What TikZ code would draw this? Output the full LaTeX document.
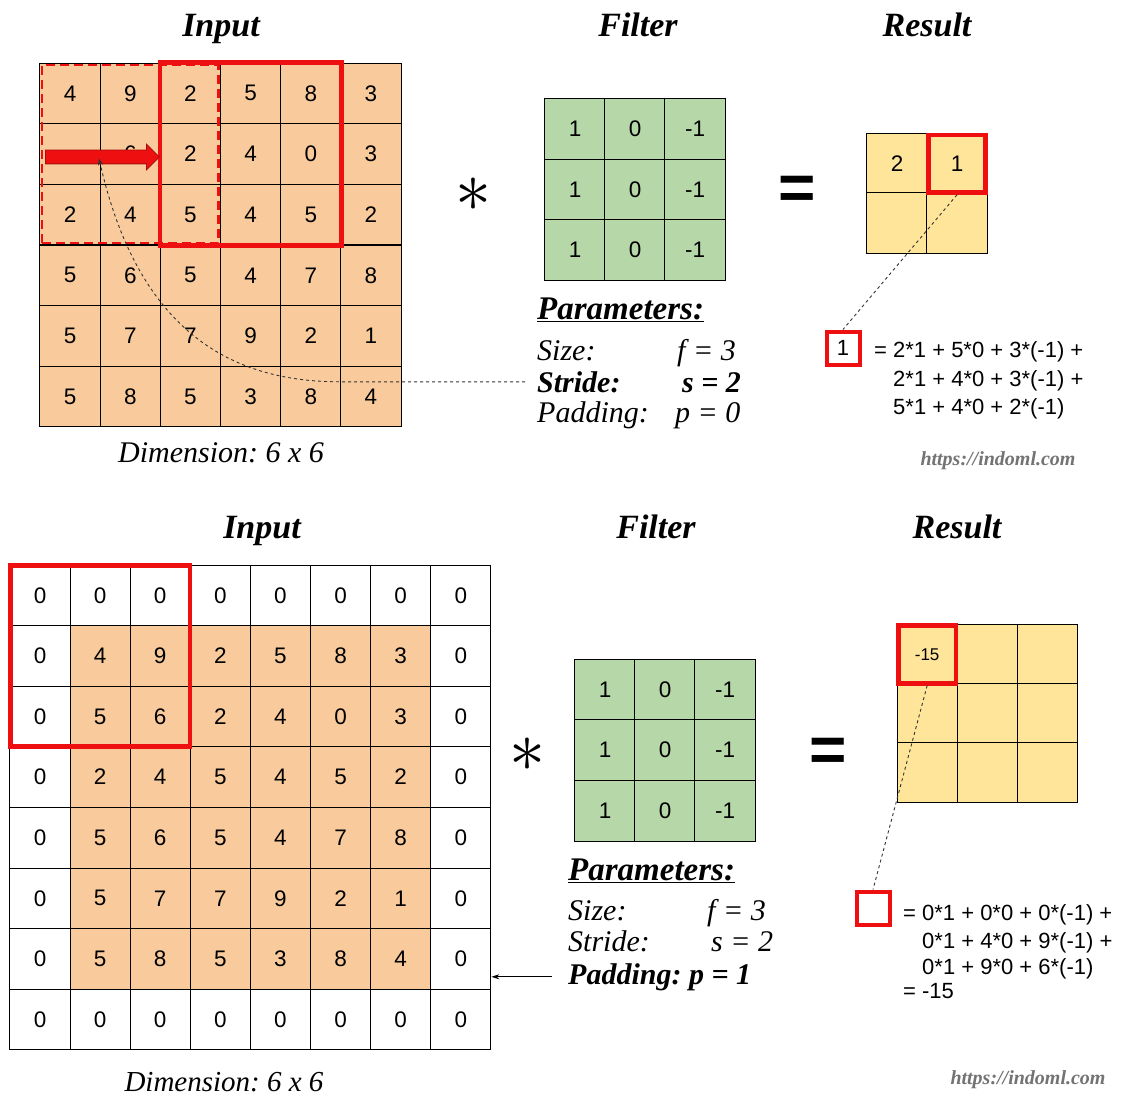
\RequirePackage{fix-cm}
\documentclass[tikz,border=0pt]{standalone}
\usepackage{fontspec}
\setmainfont{Liberation Serif}
\newfontfamily\arialfont{Liberation Sans}
\usetikzlibrary{positioning, fit, shapes.arrows, arrows.meta}
\frenchspacing

\definecolor{inputfill}{RGB}{249,203,156}
\definecolor{filterfill}{RGB}{182,215,168}
\definecolor{resultfill}{RGB}{255,229,153}
\definecolor{markred}{RGB}{238,16,16}
\definecolor{urlgray}{RGB}{115,115,115}

\tikzset{
   cell/.style={
     draw=black, line width=1pt, inner sep=0pt,
     minimum width=60.2pt, minimum height=60.6pt,
     font=\arialfont\fontsize{22.5}{22.5}\selectfont
   },
   incell/.style={cell, fill=inputfill},
   fcell/.style={cell, fill=filterfill},
   rcell/.style={cell, fill=resultfill},
   winbox/.style={draw=markred, line width=4.5pt, inner sep=0pt},
   smallbox/.style={
     draw=markred, line width=4pt, inner sep=0pt, minimum size=33pt,
     font=\arialfont\fontsize{22}{22}\selectfont
   },
   shiftarrow/.style={
     single arrow, fill=markred, draw=markred!70!black, line width=0.8pt,
     minimum height=114pt, inner xsep=0pt, inner ysep=6.5pt,
     single arrow head extend=6pt
   },
   title/.style={anchor=base, font=\bfseries\itshape\fontsize{34}{34}\selectfont},
   param/.style={anchor=base west, inner sep=0pt, font=\itshape\fontsize{30}{30}\selectfont},
   parambold/.style={param, font=\bfseries\itshape\fontsize{30}{30}\selectfont},
   paramhead/.style={param, font=\bfseries\itshape\fontsize{33}{33}\selectfont},
   eqline/.style={anchor=base west, inner sep=0pt, font=\arialfont\fontsize{22}{22}\selectfont},
   dimtext/.style={font=\itshape\fontsize{30}{30}\selectfont},
   urltext/.style={text=urlgray, font=\bfseries\itshape\fontsize{20}{20}\selectfont},
   opsign/.style={font=\fontsize{72}{72}\selectfont},
   eqsign/.style={font=\arialfont\bfseries\fontsize{64}{64}\selectfont},
   linkline/.style={dashed, line width=0.9pt, black!80},
   padline/.style={->, >={Stealth[length=8pt,width=5pt]}, line width=0.8pt}
}

\begin{document}
\begin{tikzpicture}[x=1pt, y=-1pt]
   \fill[white] (0,0) rectangle (1134,1099);
   \useasboundingbox (0,0) rectangle (1134,1099);

   % ---- stride 2, no padding ----
   \node[title](in1-title) at (221,37) {Input};
   \node[title](f1-title) at (638,37) {Filter};
   \node[title](r1-title) at (927,37) {Result};

   \foreach \row [count=\ri] in {{4,9,2,5,8,3},{,6,2,4,0,3},{2,4,5,4,5,2},{5,6,5,4,7,8},{5,7,7,9,2,1},{5,8,5,3,8,4}}
      \foreach \v [count=\ci] in \row
         \node[incell](in1-\ri-\ci) at ({40+60.17*(\ci-0.5)},{63+60.67*(\ri-0.5)}) {\v};

   \node[winbox, dash pattern=on 9pt off 5pt, line width=2.8pt, inner sep=-2.5pt, fit=(in1-1-1)(in1-3-3)](win0) {};
   \node[winbox, fit=(in1-1-3)(in1-3-5)](win1) {};
   \node[shiftarrow, anchor=west](shift1) at (45,157) {};

   \node[opsign](conv1) at (473,195) {$\ast$};

   \foreach \ri in {1,2,3}
      \foreach \v [count=\ci] in {1,0,-1}
         \node[fcell](f1-\ri-\ci) at ({545+60*(\ci-0.5)},{99+60.5*(\ri-0.5)}) {\v};

   \node[eqsign](equal1) at (797,193) {=};

   \foreach \ri/\ci/\v in {1/1/2, 1/2/1, 2/1/, 2/2/}
      \node[rcell](r1-\ri-\ci) at ({867+60*(\ci-0.5)},{134+59.5*(\ri-0.5)}) {\v};
   \node[winbox, inner sep=-2pt, fit=(r1-1-2)](rwin1) {};

   \node[paramhead](p1-head) at (537,319) {\underline{Parameters:}};
   \node[param](p1-size) at (537,360) {Size:};
   \node[param](p1-sizev) at (677,360) {f = 3};
   \node[parambold](p1-stride) at (537,392) {Stride:};
   \node[parambold](p1-stridev) at (682,392) {s = 2};
   \node[param](p1-pad) at (537,422) {Padding:};
   \node[param](p1-padv) at (675,422) {p = 0};

   \node[dimtext](dim1) at (221,453) {Dimension: 6 x 6};

   \node[smallbox](box1) at (843,348) {1};
   \node[eqline](eq1-l1) at (874,357) {= 2*1 + 5*0 + 3*(-1) +};
   \node[eqline](eq1-l2) at (893,386) {2*1 + 4*0 + 3*(-1) +};
   \node[eqline](eq1-l3) at (893,414) {5*1 + 4*0 + 2*(-1)};

   \node[urltext](url1) at (998,461) {https://indoml.com};

   \draw[linkline] (rwin1.south) -- (box1.north);
   \draw[linkline, -{Stealth[length=7pt,width=5pt]}] ([xshift=-12pt]p1-stride.west) -- ++(-185,0)
      .. controls ++(-100,0) and (140,340) .. ([yshift=6pt]shift1.south);

   % ---- stride 2, padding 1 ----
   \node[title](in2-title) at (262,538) {Input};
   \node[title](f2-title) at (656,538) {Filter};
   \node[title](r2-title) at (957,538) {Result};

   \foreach \row [count=\ri] in {{0,0,0,0,0,0,0,0},{0,4,9,2,5,8,3,0},{0,5,6,2,4,0,3,0},{0,2,4,5,4,5,2,0},{0,5,6,5,4,7,8,0},{0,5,7,7,9,2,1,0},{0,5,8,5,3,8,4,0},{0,0,0,0,0,0,0,0}}
      \foreach \v [count=\ci] in \row {
         \pgfmathtruncatemacro\inside{(\ri>1)*(\ri<8)*(\ci>1)*(\ci<8)}
         \ifnum\inside=1 \def\cellfill{inputfill}\else\def\cellfill{white}\fi
         \node[cell, fill=\cellfill](in2-\ri-\ci) at ({10+60.1*(\ci-0.5)},{565+60.6*(\ri-0.5)}) {\v};
      }
   \node[winbox, inner sep=-1pt, fit=(in2-1-1)(in2-3-3)](win2) {};

   \node[opsign](conv2) at (527,755) {$\ast$};

   \foreach \ri in {1,2,3}
      \foreach \v [count=\ci] in {1,0,-1}
         \node[fcell](f2-\ri-\ci) at ({575+60*(\ci-0.5)},{659+60.7*(\ri-0.5)}) {\v};

   \node[eqsign](equal2) at (828,755) {=};

   \foreach \ri/\ci/\v in {1/1/-15, 1/2/, 1/3/, 2/1/, 2/2/, 2/3/, 3/1/, 3/2/, 3/3/}
      \node[rcell, font=\arialfont\fontsize{17}{17}\selectfont](r2-\ri-\ci) at ({897+60.3*(\ci-0.5)},{625+59*(\ri-0.5)}) {\v};
   \node[winbox, inner sep=-2pt, fit=(r2-1-1)](rwin2) {};

   \node[paramhead](p2-head) at (568,880) {\underline{Parameters:}};
   \node[param](p2-size) at (568,920) {Size:};
   \node[param](p2-sizev) at (707,920) {f = 3};
   \node[param](p2-stride) at (568,951) {Stride:};
   \node[param](p2-stridev) at (711,951) {s = 2};
   \node[parambold](p2-pad) at (568,984) {Padding: p = 1};

   \node[dimtext, font=\itshape\fontsize{29}{29}\selectfont](dim2) at (224,1082) {Dimension: 6 x 6};

   \node[smallbox](box2) at (873,908) {};
   \node[eqline](eq2-l1) at (903,920) {= 0*1 + 0*0 + 0*(-1) +};
   \node[eqline](eq2-l2) at (922,948) {0*1 + 4*0 + 9*(-1) +};
   \node[eqline](eq2-l3) at (922,974) {0*1 + 9*0 + 6*(-1)};
   \node[eqline](eq2-l4) at (903,998) {= -15};

   \node[urltext](url2) at (1028,1080) {https://indoml.com};

   \draw[linkline] (rwin2.south) -- (box2.north);
   \draw[padline] ([xshift=-16pt]p2-pad.west) -- (p2-pad.west -| in2-7-8.east);
\end{tikzpicture}
\end{document}
